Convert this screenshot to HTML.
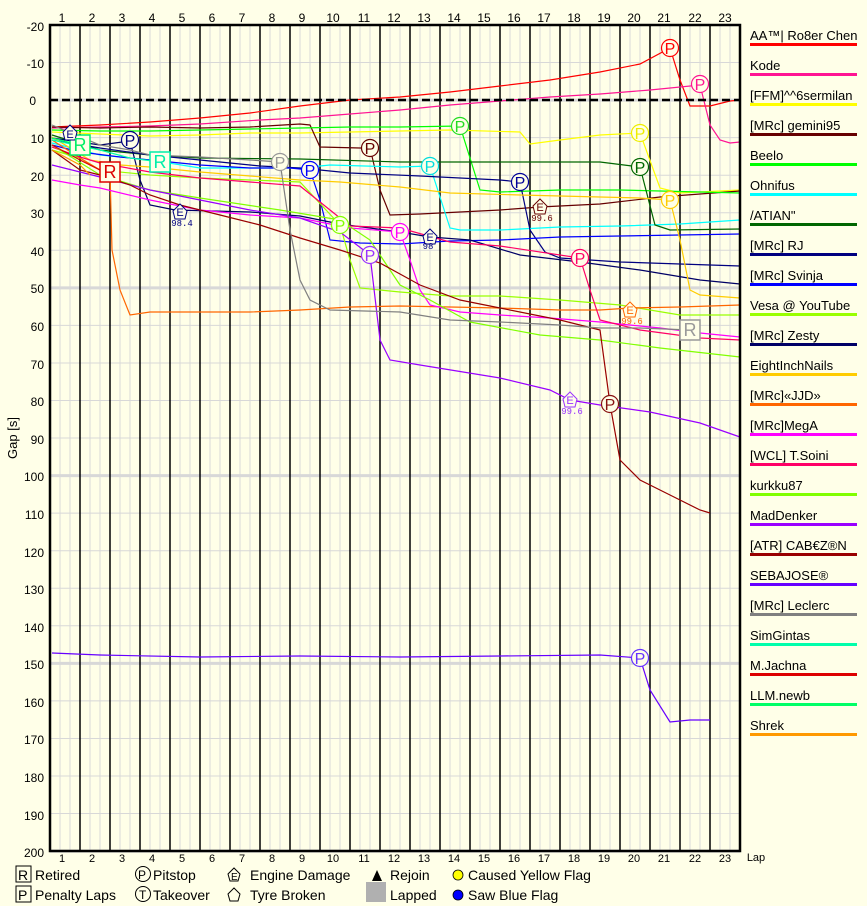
<!DOCTYPE html>
<html><head><meta charset="utf-8"><style>
body{margin:0;background:#ffffe8;}
svg{display:block;font-family:"Liberation Sans",sans-serif;}
</style></head><body>
<svg id="s" width="867" height="906" viewBox="0 0 867 906" xmlns="http://www.w3.org/2000/svg">
<rect width="867" height="906" fill="#ffffe8"/>
<g id="grid"></g>
<g id="lines" fill="none" stroke-width="1.2"></g>
<g id="marks"></g>
<rect x="50" y="25" width="690" height="826" fill="none" stroke="#000" stroke-width="2.5"/>
<line x1="50" y1="100" x2="740" y2="100" stroke="#000" stroke-width="2.5" stroke-dasharray="8,4"/>
<g font-size="12" fill="#000" text-anchor="middle">
<text x="62" y="22">1</text><text x="92" y="22">2</text><text x="122" y="22">3</text><text x="152" y="22">4</text><text x="182" y="22">5</text><text x="212" y="22">6</text><text x="242" y="22">7</text><text x="272" y="22">8</text><text x="302" y="22">9</text><text x="333" y="22">10</text><text x="364" y="22">11</text><text x="394" y="22">12</text><text x="424" y="22">13</text><text x="454" y="22">14</text><text x="484" y="22">15</text><text x="514" y="22">16</text><text x="544" y="22">17</text><text x="574" y="22">18</text><text x="604" y="22">19</text><text x="634" y="22">20</text><text x="664" y="22">21</text><text x="695" y="22">22</text><text x="725" y="22">23</text>
</g>
<g font-size="11" fill="#000" text-anchor="middle">
<text x="62" y="862">1</text><text x="92" y="862">2</text><text x="122" y="862">3</text><text x="152" y="862">4</text><text x="182" y="862">5</text><text x="212" y="862">6</text><text x="242" y="862">7</text><text x="272" y="862">8</text><text x="302" y="862">9</text><text x="333" y="862">10</text><text x="364" y="862">11</text><text x="394" y="862">12</text><text x="424" y="862">13</text><text x="454" y="862">14</text><text x="484" y="862">15</text><text x="514" y="862">16</text><text x="544" y="862">17</text><text x="574" y="862">18</text><text x="604" y="862">19</text><text x="634" y="862">20</text><text x="664" y="862">21</text><text x="695" y="862">22</text><text x="725" y="862">23</text>
<text x="756" y="861">Lap</text>
</g>
<g font-size="12" fill="#000" text-anchor="end">
<text x="44" y="31">-20</text><text x="44" y="68">-10</text><text x="36" y="105">0</text><text x="44" y="143">10</text><text x="44" y="181">20</text><text x="44" y="218">30</text><text x="44" y="256">40</text><text x="44" y="293">50</text><text x="44" y="331">60</text><text x="44" y="369">70</text><text x="44" y="406">80</text><text x="44" y="444">90</text><text x="44" y="481">100</text><text x="44" y="519">110</text><text x="44" y="557">120</text><text x="44" y="594">130</text><text x="44" y="632">140</text><text x="44" y="669">150</text><text x="44" y="707">160</text><text x="44" y="744">170</text><text x="44" y="782">180</text><text x="44" y="820">190</text><text x="44" y="857">200</text>
</g>
<text x="17" y="438" font-size="13" transform="rotate(-90 17 438)" text-anchor="middle">Gap [s]</text>
<g font-size="13" fill="#000">
<text x="750" y="40">AA™| Ro8er Chen</text><text x="750" y="70">Kode</text><text x="750" y="100">[FFM]^^6sermilan</text><text x="750" y="130">[MRc] gemini95</text><text x="750" y="160">Beelo</text><text x="750" y="190">Ohnifus</text><text x="750" y="220">/ATIAN"</text><text x="750" y="250">[MRc] RJ</text><text x="750" y="280">[MRc] Svinja</text><text x="750" y="310">Vesa @ YouTube</text><text x="750" y="340">[MRc] Zesty</text><text x="750" y="370">EightInchNails</text><text x="750" y="400">[MRc]«JJD»</text><text x="750" y="430">[MRc]MegA</text><text x="750" y="460">[WCL] T.Soini</text><text x="750" y="490">kurkku87</text><text x="750" y="520">MadDenker</text><text x="750" y="550">[ATR] CAB€Z®N</text><text x="750" y="580">SEBAJOSE®</text><text x="750" y="610">[MRc] Leclerc</text><text x="750" y="640">SimGintas</text><text x="750" y="670">M.Jachna</text><text x="750" y="700">LLM.newb</text><text x="750" y="730">Shrek</text>
</g>
<g id="leg"></g>
<g font-size="14" fill="#000">
<rect x="16" y="866" width="15" height="16" fill="none" stroke="#000"/><text x="18" y="880">R</text><text x="35" y="880">Retired</text>
<rect x="16" y="886" width="15" height="16" fill="none" stroke="#000"/><text x="18" y="900">P</text><text x="35" y="900">Penalty Laps</text>
<circle cx="143" cy="874" r="7.5" fill="none" stroke="#000"/><text x="138" y="879" font-size="12">P</text><text x="153" y="880">Pitstop</text>
<circle cx="143" cy="894" r="7.5" fill="none" stroke="#000"/><text x="139" y="899" font-size="12">T</text><text x="153" y="900">Takeover</text>
<path d="M228 874 L234 868 L240 874 L238 881 L230 881 Z" fill="none" stroke="#000"/><text x="231" y="880" font-size="10">E</text><text x="250" y="880">Engine Damage</text>
<path d="M228 894 L234 888 L240 894 L238 901 L230 901 Z" fill="none" stroke="#000"/><text x="250" y="900">Tyre Broken</text>
<path d="M372 881 L377 870 L382 881 Z" fill="#000"/><text x="390" y="880">Rejoin</text>
<rect x="366" y="882" width="20" height="20" fill="#b0b0b0"/><text x="390" y="900">Lapped</text>
<circle cx="458" cy="875" r="5" fill="#ffff00" stroke="#000" stroke-width="0.8"/><text x="468" y="880">Caused Yellow Flag</text>
<circle cx="458" cy="895" r="5" fill="#0000ff" stroke="#000" stroke-width="0.8"/><text x="468" y="900">Saw Blue Flag</text>
</g>
<g id="mtext" font-size="16" text-anchor="middle">
<text x="130" y="146" fill="#000080">P</text><text x="370" y="154" fill="#660000">P</text><text x="280" y="168" fill="#999">P</text><text x="310" y="176" fill="#0000ff">P</text><text x="340" y="231" fill="#80ff00">P</text><text x="400" y="238" fill="#ff00ff">P</text><text x="370" y="261" fill="#9933ff">P</text><text x="460" y="132" fill="#22dd22">P</text><text x="430" y="172" fill="#00dddd">P</text><text x="520" y="188" fill="#000099">P</text><text x="580" y="264" fill="#ff0066">P</text><text x="610" y="410" fill="#881111">P</text><text x="640" y="139" fill="#eeee00">P</text><text x="640" y="173" fill="#006600">P</text><text x="670" y="206" fill="#ffcc00">P</text><text x="670" y="54" fill="#ff0000">P</text><text x="700" y="90" fill="#ff1493">P</text><text x="640" y="664" fill="#6633ff">P</text>
<text x="80" y="151" fill="#00ee66" font-size="18">R</text><text x="110" y="178" fill="#dd0000" font-size="18">R</text><text x="160" y="168" fill="#00eeaa" font-size="18">R</text><text x="690" y="336" fill="#999" font-size="18">R</text>
<text x="70" y="138" fill="#000080" font-size="11">E</text><text x="180" y="216" fill="#000080" font-size="11">E</text><text x="430" y="241" fill="#000080" font-size="11">E</text><text x="540" y="211" fill="#660000" font-size="11">E</text><text x="630" y="314" fill="#ff6600" font-size="11">E</text><text x="570" y="404" fill="#9933ff" font-size="11">E</text>
<g font-family="Liberation Mono,monospace" font-size="9"><text x="182" y="226" fill="#000080">98.4</text><text x="428" y="249" fill="#000080">98</text><text x="542" y="221" fill="#660000">99.6</text><text x="632" y="324" fill="#ff6600">99.6</text><text x="572" y="414" fill="#9933ff">99.6</text></g>
</g>
<script>
var ns="http://www.w3.org/2000/svg";
function el(p,t,a){var e=document.createElementNS(ns,t);for(var k in a)e.setAttribute(k,a[k]);document.getElementById(p).appendChild(e);return e;}
for(var x=60;x<740;x+=10){if((x-80)%30!=0)el("grid","line",{x1:x,y1:25,x2:x,y2:851,stroke:"#d8d8d8","stroke-width":1});}
for(var i=0;i<=22;i++){var y=25+i*37.55;el("grid","line",{x1:50,y1:y,x2:740,y2:y,stroke:"#d8d8d8","stroke-width":(i%5==2?3:1)});}
for(var x=80;x<740;x+=30)el("grid","line",{x1:x,y1:25,x2:x,y2:851,stroke:"#000","stroke-width":1.5});
var S=[
["#ff0000","52,127 100,125 150,122 200,118 250,113 300,106 350,100 400,97 450,92 500,86 550,80 600,72 640,64 670,48 680,80 690,106 710,106 730,101 740,100"],
["#ff1493","52,128 100,127 150,126 200,124 260,120 300,118 350,114 400,110 450,105 500,101 550,97 600,94 650,90 700,85 710,125 720,140 730,143 740,142"],
["#ffff00","52,132 100,134 150,136 200,135 250,133 300,133 350,132 400,131 450,130 520,132 530,144 560,140 600,135 640,133 660,188 680,193 740,190"],
["#660000","52,127 100,128 150,127 200,128 250,127 300,124 310,125 320,147 360,148 370,148 380,190 390,215 420,214 500,210 540,207 600,204 660,197 700,194 740,191"],
["#00ff00","52,130 100,131 150,131 200,130 250,129 300,128 350,127 400,127 460,126 480,190 500,192 560,190 620,190 700,192 740,193"],
["#00ffff","52,143 80,150 100,155 150,160 200,168 250,168 300,168 330,165 400,167 430,166 450,228 460,230 500,230 560,227 620,226 680,224 740,220"],
["#006600","52,135 100,150 150,155 200,158 300,159 400,162 500,162 600,162 640,167 655,225 670,230 740,229"],
["#000080","52,140 100,148 150,155 200,160 260,166 300,168 350,173 420,176 500,180 520,182 530,230 545,252 560,258 620,262 680,264 740,266"],
["#0000ff","52,145 80,152 120,157 150,160 200,165 250,168 290,168 310,170 320,200 330,240 360,243 400,244 450,241 500,240 560,237 620,236 680,235 740,234"],
["#99ff00","52,150 80,158 100,170 150,175 200,178 250,180 300,182 340,225 350,260 360,288 400,292 450,296 500,296 560,300 620,305 680,315 740,315"],
["#000066","52,138 100,145 130,141 140,180 150,205 175,210 250,212 300,216 340,224 400,232 430,237 470,240 520,255 580,262 640,270 700,280 740,284"],
["#ffcc00","52,137 90,160 120,165 150,167 200,172 250,176 300,180 340,182 400,187 450,193 520,195 600,197 640,198 670,200 680,240 690,290 700,295 740,298"],
["#ff6600","52,140 80,158 100,170 110,172 112,250 120,290 130,315 150,312 200,312 250,312 300,310 350,307 400,306 500,308 560,310 600,310 630,308 680,307 740,305"],
["#ff00ff","52,180 80,185 100,188 150,200 200,210 250,215 300,218 350,228 400,232 410,260 420,290 430,305 460,312 500,315 550,318 600,322 660,328 700,333 740,337"],
["#ff0066","52,147 80,157 100,163 150,172 200,178 250,182 300,186 350,226 400,228 450,242 500,246 580,258 590,290 600,320 640,330 700,338 740,340"],
["#80ff00","52,145 100,175 150,190 200,198 280,210 340,220 370,240 400,285 430,300 470,322 540,335 600,340 660,348 740,357"],
["#9900ff","52,165 100,177 150,190 200,200 250,210 300,218 340,232 370,255 380,340 390,360 420,365 500,378 550,390 570,400 600,405 650,412 700,423 740,437"],
["#990000","52,150 80,170 100,175 130,185 150,195 180,205 220,215 260,225 300,238 340,250 380,263 420,285 460,300 500,308 560,320 600,330 610,404 620,460 640,480 670,495 700,510 710,513"],
["#6600ff","52,653 100,655 200,657 300,656 400,657 500,656 600,655 640,658 650,690 670,722 690,720 710,720"],
["#808080","52,125 100,145 130,150 150,155 200,157 250,160 280,162 290,230 300,280 310,300 330,310 400,312 450,320 500,322 560,325 600,328 640,328 690,330"],
["#00ffaa","52,140 100,150 130,158 160,162"],
["#dd0000","52,145 80,160 100,170 110,172"],
["#00ff66","52,138 80,145"],
["#ff9900","52,150 80,165 90,175"]];
S.forEach(function(s,i){el("lines","polyline",{points:s[1],stroke:s[0]});el("leg","rect",{x:750,y:43+30*i,width:107,height:3,fill:s[0]});});
var P=[[130,140,"#000080"],[370,148,"#660000"],[280,162,"#999"],[310,170,"#0000ff"],[340,225,"#80ff00"],[400,232,"#ff00ff"],[370,255,"#9933ff"],[460,126,"#22dd22"],[430,166,"#00dddd"],[520,182,"#000099"],[580,258,"#ff0066"],[610,404,"#881111"],[640,133,"#eeee00"],[640,167,"#006600"],[670,200,"#ffcc00"],[670,48,"#ff0000"],[700,84,"#ff1493"],[640,658,"#6633ff"]];
P.forEach(function(p){el("marks","circle",{cx:p[0],cy:p[1],r:8.5,fill:"#ffffe8",stroke:p[2],"stroke-width":1.2});});
[[80,145,"#00ee66"],[110,172,"#dd0000"],[160,162,"#00eeaa"],[690,330,"#999"]].forEach(function(p){el("marks","rect",{x:p[0]-10,y:p[1]-10,width:20,height:20,fill:"#ffffe8",stroke:p[2],"stroke-width":1.5});});
[[70,133,"#000080"],[180,212,"#000080"],[430,237,"#000080"],[540,207,"#660000"],[630,310,"#ff6600"],[570,400,"#9933ff"]].forEach(function(p){var x=p[0],y=p[1];el("marks","path",{d:"M"+(x-7)+" "+(y-1)+" L"+x+" "+(y-8)+" L"+(x+7)+" "+(y-1)+" L"+(x+5)+" "+(y+7)+" L"+(x-5)+" "+(y+7)+" Z",fill:"#ffffe8",stroke:p[2]});});
</script>
</svg>
</body></html>
